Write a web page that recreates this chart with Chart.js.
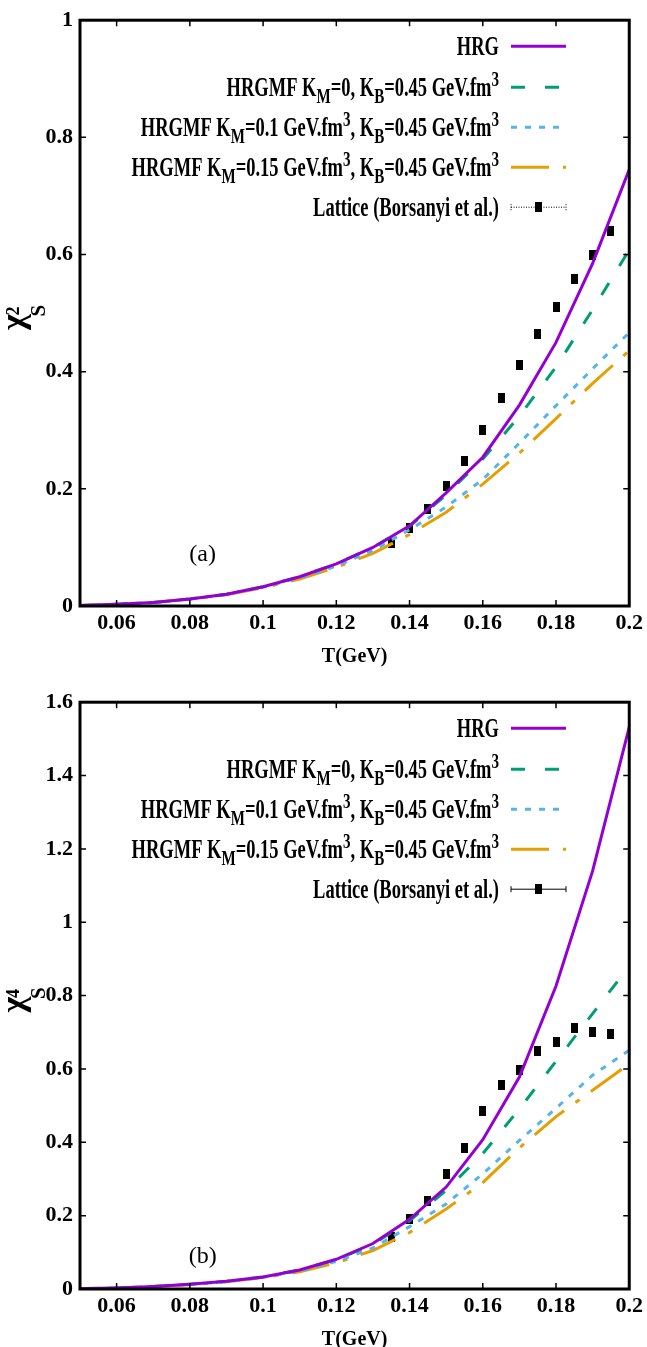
<!DOCTYPE html>
<html>
<head>
<meta charset="utf-8">
<script src="https://cdn.jsdelivr.net/npm/chart.js@4.4.0/dist/chart.umd.min.js"></script>
<style>
  html, body { margin: 0; padding: 0; background: #fff; }
  body { width: 647px; height: 1347px; position: relative; overflow: hidden; }
  canvas { position: absolute; left: 0; }
</style>
</head>
<body>
<canvas id="chi2" width="647" height="680" style="top:0;width:647px;height:680px"></canvas>
<canvas id="chi4" width="647" height="665" style="top:682px;width:647px;height:665px"></canvas>
<script>
// temperatures (GeV) of the model curves and of the lattice points
const temps = [0.05, 0.06, 0.07, 0.08, 0.09, 0.10, 0.11, 0.12, 0.13, 0.14, 0.15, 0.16, 0.17, 0.18, 0.19, 0.20];
const latticeT = [0.135, 0.14, 0.145, 0.15, 0.155, 0.16, 0.165, 0.17, 0.175, 0.18, 0.185, 0.19, 0.195];

// tick values
const xTicks = [0.06, 0.08, 0.1, 0.12, 0.14, 0.16, 0.18, 0.2];
const chi2Ticks = [0, 0.2, 0.4, 0.6, 0.8, 1];
const chi4Ticks = [0, 0.2, 0.4, 0.6, 0.8, 1, 1.2, 1.4, 1.6];

// (a) chi^2_S
const chi2HRG  = [0.001, 0.003, 0.006, 0.012, 0.020, 0.033, 0.050, 0.072, 0.100, 0.137, 0.193, 0.254, 0.343, 0.450, 0.585, 0.745];
const chi2KM0  = [0.001, 0.003, 0.006, 0.012, 0.020, 0.033, 0.050, 0.072, 0.100, 0.136, 0.190, 0.251, 0.324, 0.408, 0.506, 0.608];
const chi2KM01 = [0.001, 0.003, 0.006, 0.012, 0.020, 0.032, 0.048, 0.068, 0.095, 0.130, 0.169, 0.216, 0.278, 0.342, 0.405, 0.467];
const chi2KM15 = [0.001, 0.003, 0.006, 0.012, 0.019, 0.031, 0.046, 0.066, 0.090, 0.122, 0.160, 0.208, 0.261, 0.320, 0.380, 0.436];
const chi2Lat  = [0.108, 0.133, 0.165, 0.204, 0.248, 0.301, 0.355, 0.411, 0.465, 0.510, 0.558, 0.600, 0.641];

// (b) chi^4_S
const chi4HRG  = [0.001, 0.003, 0.007, 0.013, 0.021, 0.033, 0.052, 0.081, 0.124, 0.190, 0.278, 0.407, 0.578, 0.826, 1.140, 1.532];
const chi4KM0  = [0.001, 0.003, 0.007, 0.013, 0.021, 0.033, 0.052, 0.080, 0.122, 0.186, 0.269, 0.369, 0.491, 0.621, 0.751, 0.880];
const chi4KM01 = [0.001, 0.003, 0.007, 0.013, 0.020, 0.032, 0.049, 0.075, 0.112, 0.170, 0.232, 0.314, 0.405, 0.493, 0.583, 0.651];
const chi4KM15 = [0.001, 0.003, 0.007, 0.012, 0.020, 0.031, 0.047, 0.071, 0.105, 0.154, 0.218, 0.290, 0.385, 0.470, 0.542, 0.614];
const chi4Lat  = [0.143, 0.191, 0.239, 0.313, 0.385, 0.486, 0.556, 0.596, 0.648, 0.673, 0.711, 0.702, 0.694];

// legend names, split into normal / sub / sup pieces
const seriesNames = [
  [['HRG']],
  [['HRGMF K'], ['M', 'sub'], ['=0, K'], ['B', 'sub'], ['=0.45 GeV.fm'], ['3', 'sup']],
  [['HRGMF K'], ['M', 'sub'], ['=0.1 GeV.fm'], ['3', 'sup'], [', K'], ['B', 'sub'], ['=0.45 GeV.fm'], ['3', 'sup']],
  [['HRGMF K'], ['M', 'sub'], ['=0.15 GeV.fm'], ['3', 'sup'], [', K'], ['B', 'sub'], ['=0.45 GeV.fm'], ['3', 'sup']],
  [['Lattice (Borsanyi et al.)']]
];

const SERIF = '"Liberation Serif", "Times New Roman", serif';
const colors = ['#9400d3', '#009e73', '#56b4e9', '#e69f00', '#000'];
const dashes = [[], [14, 20], [6, 8], [38, 14, 5, 14]];

// black bar used as the lattice marker
const mark = document.createElement('canvas');
mark.width = 7; mark.height = 10;
(function(){ const c = mark.getContext('2d'); c.fillStyle = '#000'; c.fillRect(0, 0, 7, 10); })();

function fmt(v) { return String(+v.toFixed(2)); }

function richWidth(ctx, segs, size, sx) {
  let w = 0;
  segs.forEach(s => {
    ctx.font = 'bold ' + (s[1] ? Math.round(size * 0.8) : size) + 'px ' + SERIF;
    w += ctx.measureText(s[0]).width * sx;
  });
  return w;
}

function drawRich(ctx, segs, xRight, base, size, sx) {
  let x = xRight - richWidth(ctx, segs, size, sx);
  segs.forEach(s => {
    const small = Math.round(size * 0.8);
    ctx.font = 'bold ' + (s[1] ? small : size) + 'px ' + SERIF;
    const dy = s[1] === 'sub' ? 7 : s[1] === 'sup' ? -10 : 0;
    ctx.save();
    ctx.translate(x, base + dy);
    ctx.scale(sx, 1);
    ctx.fillText(s[0], 0, 0);
    ctx.restore();
    x += ctx.measureText(s[0]).width * sx;
  });
}

const panelDecor = {
  id: 'panelDecor',
  afterDatasetsDraw(chart, args, opts) {
    const { ctx, chartArea: a, scales: { x, y } } = chart;
    ctx.save();
    ctx.fillStyle = '#000';
    ctx.strokeStyle = '#000';

    // frame + inward ticks on all four sides
    ctx.setLineDash([]);
    ctx.lineWidth = 3;
    ctx.strokeRect(a.left, a.top, a.right - a.left, a.bottom - a.top);
    ctx.lineWidth = 1.5;
    ctx.beginPath();
    x.ticks.forEach(t => {
      const px = x.getPixelForValue(t.value);
      ctx.moveTo(px, a.bottom); ctx.lineTo(px, a.bottom - 6);
      ctx.moveTo(px, a.top); ctx.lineTo(px, a.top + 6);
    });
    y.ticks.forEach(t => {
      const py = y.getPixelForValue(t.value);
      ctx.moveTo(a.left, py); ctx.lineTo(a.left + 6, py);
      ctx.moveTo(a.right, py); ctx.lineTo(a.right - 6, py);
    });
    ctx.stroke();

    // key
    const rows = [26, 67, 107, 147, 187];
    const tx = 499, l0 = 511, l1 = 566;
    seriesNames.forEach((segs, i) => {
      const ym = a.top + rows[i];
      ctx.fillStyle = '#000';
      ctx.textBaseline = 'alphabetic';
      drawRich(ctx, segs, tx, ym + 9, 27, 0.685);
      if (i < 4) {
        ctx.strokeStyle = colors[i];
        ctx.lineWidth = 3;
        ctx.setLineDash(dashes[i]);
        ctx.beginPath(); ctx.moveTo(l0, ym); ctx.lineTo(l1, ym); ctx.stroke();
      } else {
        ctx.strokeStyle = '#000';
        ctx.lineWidth = 1;
        ctx.setLineDash(opts.dottedBar ? [1, 1.5] : []);
        ctx.beginPath();
        ctx.moveTo(l0, ym); ctx.lineTo(l1, ym);
        ctx.moveTo(l0, ym - 3); ctx.lineTo(l0, ym + 3);
        ctx.moveTo(l1, ym - 3); ctx.lineTo(l1, ym + 3);
        ctx.stroke();
        ctx.drawImage(mark, (l0 + l1) / 2 - 3.5, ym - 5);
      }
    });
    ctx.setLineDash([]);

    // y title: chi with sub S and sup n, rotated
    ctx.save();
    ctx.translate(27, (a.top + a.bottom) / 2);
    ctx.rotate(-Math.PI / 2);
    ctx.textBaseline = 'alphabetic';
    ctx.textAlign = 'left';
    ctx.font = 'bold 34px ' + SERIF;
    ctx.fillText('\u03c7', -17, -3);
    const cw = ctx.measureText('\u03c7').width;
    ctx.font = 'bold 21px ' + SERIF;
    ctx.fillText('S', -17 + cw - 2, 18);
    ctx.font = 'bold 18px ' + SERIF;
    ctx.fillText(opts.power, -17 + cw - 1, -8);
    ctx.restore();

    // x title
    ctx.font = 'bold 20px ' + SERIF;
    ctx.textAlign = 'center';
    ctx.textBaseline = 'middle';
    ctx.fillText('T(GeV)', (a.left + a.right) / 2, a.bottom + 51);

    // panel tag
    ctx.font = '24px ' + SERIF;
    ctx.fillText(opts.tag, x.getPixelForValue(0.0835), y.getPixelForValue(0.088));
    ctx.restore();
  }
};

function makeChart(id, series, lattice, yTicks, yMax, xAxisHeight, decor) {
  const ctx = document.getElementById(id).getContext('2d');
  const pts = vals => vals.map((v, i) => ({ x: temps[i], y: v }));
  const datasets = series.map((vals, i) => ({
    label: seriesNames[i].map(s => s[0]).join(''),
    data: pts(vals),
    borderColor: colors[i],
    borderWidth: 3,
    borderDash: dashes[i],
    pointRadius: 0,
    tension: 0,
    fill: false
  }));
  datasets.push({
    label: 'Lattice (Borsanyi et al.)',
    data: lattice.map((v, i) => ({ x: latticeT[i], y: v })),
    showLine: false,
    pointStyle: mark,
    pointRadius: 5,
    borderColor: '#000',
    backgroundColor: '#000'
  });
  return new Chart(ctx, {
    type: 'line',
    data: { datasets: datasets },
    options: {
      responsive: false,
      animation: false,
      layout: { padding: { top: 15, right: 15, left: 0, bottom: 0 } },
      plugins: { legend: { display: false }, tooltip: { enabled: false }, panelDecor: decor },
      scales: {
        x: {
          type: 'linear', min: 0.05, max: 0.2,
          afterBuildTicks: s => { s.ticks = xTicks.map(v => ({ value: v })); },
          afterFit: s => { s.height = xAxisHeight; },
          grid: { display: false, drawTicks: false },
          border: { display: false },
          ticks: { autoSkip: false, maxRotation: 0, padding: 4, color: '#000',
                   font: { family: SERIF, size: 22, weight: 'bold' }, callback: v => fmt(v) }
        },
        y: {
          type: 'linear', min: 0, max: yMax,
          afterBuildTicks: s => { s.ticks = yTicks.map(v => ({ value: v })); },
          afterFit: s => { s.width = 80; },
          grid: { display: false, drawTicks: false },
          border: { display: false },
          ticks: { autoSkip: false, padding: 7, color: '#000',
                   font: { family: SERIF, size: 22, weight: 'bold' }, callback: v => fmt(v) }
        }
      }
    },
    plugins: [panelDecor]
  });
}

makeChart('chi2', [chi2HRG, chi2KM0, chi2KM01, chi2KM15], chi2Lat, chi2Ticks, 1, 74,
          { power: '2', tag: '(a)', dottedBar: true });
makeChart('chi4', [chi4HRG, chi4KM0, chi4KM01, chi4KM15], chi4Lat, chi4Ticks, 1.6, 58,
          { power: '4', tag: '(b)', dottedBar: false });
</script>
</body>
</html>
